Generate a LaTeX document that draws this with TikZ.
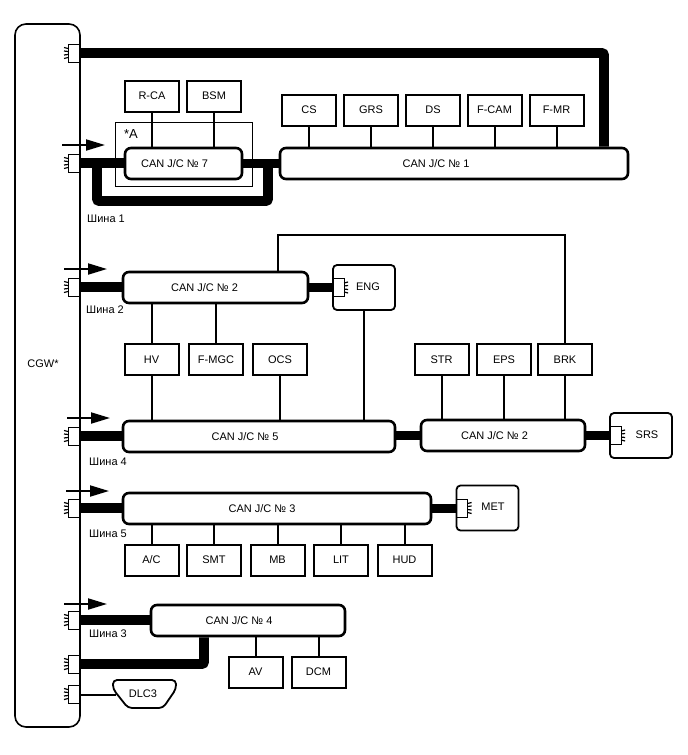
\documentclass[tikz,border=0pt]{standalone}
\usepackage{fontspec}
\setmainfont{Liberation Sans}
\usepackage{tikz}
\usetikzlibrary{arrows.meta}
\tikzset{
  unitbox/.style={draw,line width=2pt,fill=white,minimum width=54,minimum height=31,inner sep=0pt},
  jcbox/.style={draw,line width=2.6pt,fill=white,rounded corners=6,minimum height=31,inner sep=0pt},
  ecubox/.style={draw,line width=1.8pt,fill=white,rounded corners=4,minimum width=62,minimum height=45,inner sep=0pt},
  busname/.style={inner sep=0pt},
  bus/.style={line width=9.6pt,rounded corners=2},
  stub/.style={line width=2pt},
  inflow/.style={line width=2pt,-{Triangle[length=19pt,width=11pt]}},
  termleft/.pic={
    \coordinate (-port) at (0,0);
    \draw[line width=1pt] (0,-9) -- (-12,-9) -- (-12,9) -- (0,9);
    \draw[line width=1.2pt] (-12,-4.5) -- (-16,-5.5) (-12,-1.5) -- (-16,-2) (-12,1.5) -- (-16,2) (-12,4.5) -- (-16,5.5);
  },
  termright/.pic={
    \coordinate (-port) at (0,0);
    \draw[line width=1pt] (0,-9) -- (12,-9) -- (12,9) -- (0,9);
    \draw[line width=1.2pt] (12,-4.5) -- (16,-5.5) (12,-1.5) -- (16,-2) (12,1.5) -- (16,2) (12,4.5) -- (16,5.5);
  },
}
\begin{document}
\begin{tikzpicture}[x=1pt,y=-1pt,font=\fontsize{11}{13}\selectfont]
  \useasboundingbox (0,0) rectangle (688,755);

  % gateway body
  \node[draw,line width=1.6pt,fill=white,rounded corners=11,minimum width=65,minimum height=703,inner sep=0pt] (cgw) at (47.5,375.5) {};
  \node[busname] (cgwtext) at (43,364) {CGW*};

  % terminals on the gateway
  \foreach \name/\y in {t1/53,t2/163,t3/287,t4/436,t5/508,t6/620,t7/664,t8/694}
    \path (80,\y) pic (\name) {termleft};

  % frame round J/C 7
  \node[draw,line width=0.8pt,minimum width=137,minimum height=64,inner sep=0pt] (framea) at (183.5,154) {};
  \node[busname,font=\fontsize{13}{15}\selectfont] (framelabel) at (131,134) {*A};

  % junction connectors
  \foreach \name/\x/\y/\w/\dx/\txt in {
      jca/183.5/163.5/117/-9/{CAN J/C № 7},
      jcb/454/163.5/348/-18/{CAN J/C № 1},
      jcc/215.5/287.5/185/-11/{CAN J/C № 2},
      jcd/259/436.5/272/-14/{CAN J/C № 5},
      jce/503/435.5/164/-8.5/{CAN J/C № 2},
      jcf/277/508.5/308/-15/{CAN J/C № 3},
      jcg/248/620.5/194/-9/{CAN J/C № 4}}
    \node[jcbox,minimum width=\w,label={[xshift=\dx]center:\txt}] (\name) at (\x,\y) {};

  % control units
  \foreach \name/\x/\y/\txt in {
      rca/152/96/R-CA, bsm/214/96/BSM,
      cs/309/110/CS, grs/371/110/GRS, ds/433/110/DS, fcam/494.5/110/F-CAM, fmr/556.5/110/F-MR,
      hv/151.5/359.5/HV, fmgc/216/359.5/F-MGC, ocs/280/359.5/OCS,
      str/441.5/359.5/STR, eps/504/359.5/EPS, brk/565/359.5/BRK,
      ac/151.5/560/{A/C}, smt/214/560/SMT, mb/277.5/560/MB, lit/341/560/LIT, hud/404.5/560/HUD,
      av/255.5/672/AV, dcm/318.5/672/DCM}
    \node[unitbox] (\name) at (\x,\y) {\txt};

  % units with their own terminal
  \node[ecubox,label={[xshift=4pt,yshift=1pt]center:ENG}] (eng) at (364,287.5) {};
  \node[ecubox,label={[xshift=6pt,yshift=1pt]center:SRS}] (srs) at (641,435.5) {};
  \node[ecubox,label={[xshift=5.5pt,yshift=1pt]center:MET}] (met) at (487.5,508) {};
  \path (eng.west) pic (tg) {termright};
  \path (srs.west) pic (th) {termright};
  \path (met.west) pic (ti) {termright};

  % thick buses
  \draw[bus] (t1-port) -- (604,53) -- (604,53 |- jcb.north);
  \draw[bus] (t2-port) -- (t2-port -| jca.west);
  \draw[bus] (jca.east) -- (jca.east -| jcb.west);
  \draw[bus] (97,163) -- (97,201) -- (268,201) -- (268,163);
  \draw[bus] (t3-port) -- (t3-port -| jcc.west);
  \draw[bus] (jcc.east) -- (jcc.east -| tg-port);
  \draw[bus] (t4-port) -- (t4-port -| jcd.west);
  \draw[bus] (jce.west) -- (jce.west -| jcd.east);
  \draw[bus] (jce.east) -- (jce.east -| th-port);
  \draw[bus] (t5-port) -- (t5-port -| jcf.west);
  \draw[bus] (jcf.east) -- (jcf.east -| ti-port);
  \draw[bus] (t6-port) -- (t6-port -| jcg.west);
  \draw[bus] (t7-port) -- (204,664) -- (204,664 |- jcg.south);

  % stubs
  \foreach \a/\b in {rca/jca,bsm/jca,cs/jcb,grs/jcb,ds/jcb,fcam/jcb,fmr/jcb,hv/jcd,ocs/jcd,eng/jcd,str/jce,eps/jce,brk/jce}
    \draw[stub] (\a.south) -- (\a.south |- \b.north);
  \foreach \a in {ac,smt,mb,lit,hud}
    \draw[stub] (\a.north) -- (\a.north |- jcf.south);
  \foreach \a in {av,dcm}
    \draw[stub] (\a.north) -- (\a.north |- jcg.south);
  \foreach \a in {hv,fmgc}
    \draw[stub] (\a.north) -- (\a.north |- jcc.south);
  \draw[stub] (278,272) -- (278,235) -- (565,235) -- (brk.north);

  % diagnostic connector
  \coordinate (dlcport) at (116,695);
  \draw[line width=1.8pt,fill=white,rounded corners=4] (113,680) -- (176,680) -- (176,689) -- (163,708) -- (128,708) -- (113,689) -- cycle;
  \node[busname] (dlc) at (143,694) {DLC3};
  \draw[stub] (t8-port |- dlcport) -- (dlcport);

  % bus names
  \foreach \name/\x/\y/\txt in {sa/106/219/Шина 1,sb/105/310/Шина 2,sc/108/462/Шина 4,sd/108/534/Шина 5,se/108/634/Шина 3}
    \node[busname] (\name) at (\x,\y) {\txt};

  % direction arrows
  \foreach \name/\x/\y in {aa/62/145,ab/64/269,ac/67/418,ad/66/491,ae/64/604}{
    \coordinate (\name s) at (\x,\y);
    \draw[inflow] (\name s) -- ++(43,0);
  }
\end{tikzpicture}
\end{document}
